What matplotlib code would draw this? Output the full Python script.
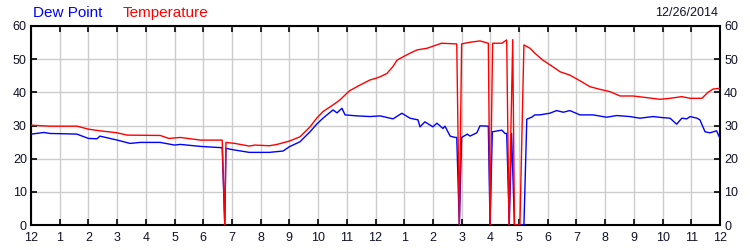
import matplotlib
matplotlib.use("Agg")
import matplotlib.pyplot as plt

# hours since midnight, readings in deg F (0 = missing sample)
temp_hours = [0, 0.66, 1.6, 2.0, 2.4, 3.0, 3.35, 4.5, 4.8, 5.2, 5.9, 6.66, 6.75, 6.79,
              7.1, 7.6, 7.8, 8.3, 8.57, 9.0, 9.37, 9.72, 9.95, 10.17, 10.52, 10.76, 10.94,
              11.1, 11.46, 11.8, 12.0, 12.16, 12.4, 12.6, 12.75, 12.85, 13.2, 13.45,
              13.8, 14.3, 14.83, 14.92, 15.0, 15.29, 15.64, 15.93, 15.99, 16.08, 16.4,
              16.57, 16.65, 16.78, 16.84, 17.03, 17.17, 17.38, 17.55, 17.83, 18.18,
              18.43, 18.77, 19.12, 19.47, 19.82, 20.17, 20.52, 20.97, 21.45, 21.91,
              22.26, 22.67, 22.96, 23.37, 23.58, 23.76, 24.0]
temperature = [30.1, 29.8, 29.8, 28.9, 28.4, 27.8, 27.1, 27.0, 26.1, 26.4, 25.6, 25.6, 0, 24.9,
               24.6, 23.8, 24.1, 23.9, 24.3, 25.3, 26.6, 29.6, 32.2, 34.2, 36.2, 37.7, 39.2,
               40.5, 42.2, 43.7, 44.2, 44.7, 45.7, 47.7, 49.7, 50.2, 51.8, 52.8,
               53.3, 54.8, 54.6, 0, 54.6, 55.1, 55.5, 54.8, 0, 54.8, 54.8,
               55.8, 0, 55.9, 0, 0, 54.3, 53.3, 51.8, 49.7, 47.7,
               46.2, 45.2, 43.5, 41.7, 40.9, 40.2, 38.9, 38.9, 38.4, 37.9,
               38.2, 38.7, 38.2, 38.2, 40.0, 41.0, 41.2]

dew_hours = [0, 0.45, 0.66, 1.2, 1.6, 2.0, 2.3, 2.4, 3.0, 3.45, 3.8, 4.5, 5.0, 5.2, 5.9,
             6.66, 6.75, 6.79, 7.1, 7.6, 8.3, 8.78, 9.0, 9.37, 9.72, 9.95, 10.17, 10.52,
             10.66, 10.83, 10.94, 11.35, 11.81, 12.16, 12.61, 12.92, 13.2, 13.48, 13.55,
             13.72, 14.0, 14.14, 14.35, 14.42, 14.6, 14.77, 14.83, 14.92, 15.0, 15.2,
             15.29, 15.53, 15.64, 15.93, 15.99, 16.07, 16.4, 16.51, 16.57, 16.66, 16.74,
             16.84, 17.17, 17.27, 17.44, 17.55, 17.72, 18.07, 18.31, 18.54, 18.77,
             19.12, 19.58, 20.05, 20.4, 20.86, 21.21, 21.67, 21.97, 22.26, 22.49,
             22.67, 22.84, 22.96, 23.2, 23.3, 23.48, 23.65, 23.88, 24.0]
dew_point = [27.4, 27.9, 27.6, 27.5, 27.4, 26.1, 26.0, 26.8, 25.6, 24.6, 24.9, 24.9, 24.1, 24.3, 23.7,
             23.3, 0, 23.1, 22.6, 21.9, 21.9, 22.3, 23.6, 25.1, 28.1, 30.4, 32.2, 34.7,
             33.8, 35.2, 33.2, 32.9, 32.7, 32.9, 32.0, 33.7, 32.2, 31.7, 29.6,
             31.1, 29.6, 30.7, 29.1, 29.8, 26.8, 26.4, 26.4, 0, 26.4, 27.4,
             26.8, 27.8, 29.9, 29.8, 0, 28.1, 28.6, 27.6, 27.6, 0, 27.6,
             0, 0, 31.9, 32.5, 33.2, 33.2, 33.7, 34.5, 34.0, 34.5,
             33.2, 33.2, 32.5, 33.0, 32.7, 32.2, 32.7, 32.4, 32.2, 30.4,
             32.2, 32.0, 32.7, 32.2, 31.7, 28.1, 27.8, 28.4, 26.1]

hour_labels = ["12"] + [str(h) for h in range(1, 12)] + ["12"] + [str(h) for h in range(1, 12)] + ["12"]
y_ticks = [0, 10, 20, 30, 40, 50, 60]
date_label = "12/26/2014"

plt.rcParams['font.family'] = ['Liberation Sans', 'DejaVu Sans']
txtcol = '#10102a'

fig = plt.figure(figsize=(7.5, 2.5), dpi=100)
ax = fig.add_axes([31/750, 25/250, 689/750, 199/250])

ax.plot(dew_hours, dew_point, color='#0000ff', lw=1.0, zorder=3)
ax.plot(temp_hours, temperature, color='#ff0000', lw=1.0, zorder=3)

ax.set_xlim(0, 24)
ax.set_ylim(0, 60)
ax.set_xticks(range(25))
ax.set_xticklabels(hour_labels)
ax.set_yticks(y_ticks)
ax.grid(True, color='#cccccc', lw=1.0)
ax.set_axisbelow(True)

for s in ax.spines.values():
    s.set_linewidth(1.5)
ax.tick_params(direction='in', length=4, width=1.2, labelsize=9, labelcolor=txtcol,
               top=True, right=True, labelright=True, pad=3)
ax.tick_params(axis='x', pad=5)

fig.text(33/750, 1 - 13/250, "Dew Point", color='#0000ff', fontsize=11, va='center', ha='left')
fig.text(123/750, 1 - 13/250, "Temperature", color='#ff0000', fontsize=11, va='center', ha='left')
fig.text(718/750, 1 - 13/250, date_label, color=txtcol, fontsize=9, va='center', ha='right')

fig.savefig("out.png", dpi=100)
